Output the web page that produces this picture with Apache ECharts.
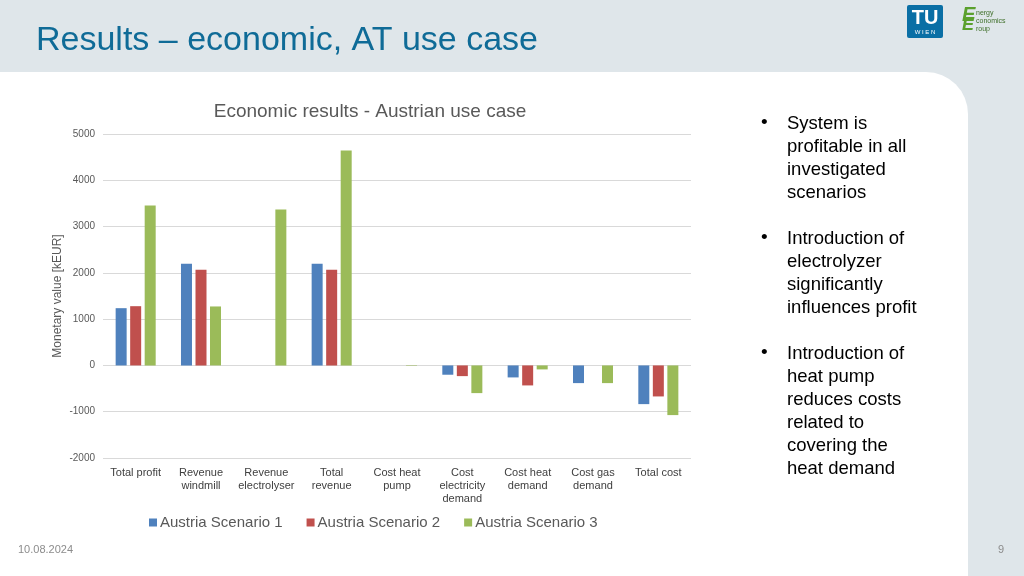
<!DOCTYPE html>
<html><head><meta charset="utf-8">
<script src="https://cdn.jsdelivr.net/npm/echarts@6/dist/echarts.min.js"></script>
<style>html,body{margin:0;padding:0;background:#fff}#c{width:1024px;height:576px}</style>
</head><body><div id="c"></div>
<script>
const categories = ['Total profit','Revenue\nwindmill','Revenue\nelectrolyser','Total\nrevenue','Cost heat\npump','Cost\nelectricity\ndemand','Cost heat\ndemand','Cost gas\ndemand','Total cost'];
const scenario1 = [1237, 2196, 0, 2196, 0, -201, -259, -382, -836];
const scenario2 = [1280, 2067, 0, 2067, 0, -231, -432, 0, -670];
const scenario3 = [3455, 1274, 3369, 4644, -10, -598, -86, -382, -1073];
const seriesNames = ['Austria Scenario 1','Austria Scenario 2','Austria Scenario 3'];
const bullets = [
  ['System is','profitable in all','investigated','scenarios'],
  ['Introduction of','electrolyzer','significantly','influences profit'],
  ['Introduction of','heat pump','reduces costs','related to','covering the','heat demand']
];
const FONT = '"Liberation Sans", Arial, sans-serif';
const chart = echarts.init(document.getElementById('c'), null, {renderer:'canvas'});
const graphics = [
  {type:'rect', z:-10, shape:{x:0,y:0,width:1024,height:576}, style:{fill:'#dfe6ea'}, silent:true},
  {type:'rect', z:-9, shape:{x:0,y:72,width:968,height:520,r:[0,42,0,0]}, style:{fill:'#ffffff'}, silent:true},
  {type:'text', left:36, top:24, style:{text:'Results – economic, AT use case', fill:'#0f6b97', font:'34px '+FONT}},
  {type:'rect', shape:{x:907,y:5,width:36,height:33,r:2}, style:{fill:'#0a6fa5'}},
  {type:'text', x:925, y:18, style:{text:'TU', fill:'#fff', font:'bold 20px '+FONT, align:'center', verticalAlign:'middle'}},
  {type:'text', x:925, y:32, style:{text:'W I E N', fill:'#fff', font:'6px '+FONT, align:'center', verticalAlign:'middle'}},
  {type:'text', x:962, y:5, style:{text:'E', fill:'#5aa02c', font:'bold italic 20px '+FONT}},
  {type:'text', x:962, y:16, style:{text:'E', fill:'#5aa02c', font:'bold italic 18px '+FONT}},
  {type:'text', x:976, y:9, style:{text:'nergy\nconomics\nroup', fill:'#3f6f2a', font:'7px '+FONT, lineHeight:8}},
  {type:'text', left:18, top:544, style:{text:'10.08.2024', fill:'#8c8c8c', font:'11px '+FONT}},
  {type:'text', left:998, top:544, style:{text:'9', fill:'#8c8c8c', font:'11px '+FONT}}
];
let y0 = 112;
bullets.forEach((b,i)=>{
  graphics.push({type:'text', left:761, top:y0+1, style:{text:'•', fill:'#000', font:'19px '+FONT}});
  graphics.push({type:'text', left:787, top:y0, style:{text:b.join('\n'), fill:'#000', font:'18.5px '+FONT, lineHeight:23}});
  y0 += b.length*23 + 23;
});
const colors = ['#4f81bd','#c0504d','#9bbb59'];
const data = [scenario1, scenario2, scenario3];
chart.setOption({
  animation:false,
  textStyle:{fontFamily:FONT},
  title:{text:'Economic results - Austrian use case', left:365, textAlign:'center', top:97, textStyle:{fontSize:19, fontWeight:'normal', color:'#595959', fontFamily:FONT}},
  graphic: graphics,
  legend:{data:seriesNames, left:144, top:510, itemWidth:8, itemHeight:8, itemGap:24, icon:'rect', textStyle:{fontSize:15, color:'#595959', fontFamily:FONT, padding:[0,0,0,-2]}},
  grid:{left:103, right:333, top:134, bottom:118, containLabel:false},
  xAxis:{type:'category', data:categories, position:'bottom',
    axisLine:{show:false, onZero:false}, axisTick:{show:false},
    axisLabel:{interval:0, color:'#404040', fontSize:11, lineHeight:13, margin:8, fontFamily:FONT}},
  yAxis:{type:'value', min:-2000, max:5000, interval:1000,
    name:'Monetary value [kEUR]', nameLocation:'middle', nameGap:45, nameRotate:90, nameMoveOverlap:false,
    nameTextStyle:{color:'#595959', fontSize:12, fontFamily:FONT, verticalAlign:'middle'},
    axisLine:{show:false}, axisTick:{show:false},
    axisLabel:{color:'#595959', fontSize:10, margin:8, fontFamily:FONT, formatter:v=>String(v)},
    splitLine:{lineStyle:{color:'#d9d9d9', width:1}}},
  series: data.map((d,i)=>({name:seriesNames[i], type:'bar', data:d, barWidth:11, barGap:'32%', itemStyle:{color:colors[i]}}))
});
</script></body></html>
